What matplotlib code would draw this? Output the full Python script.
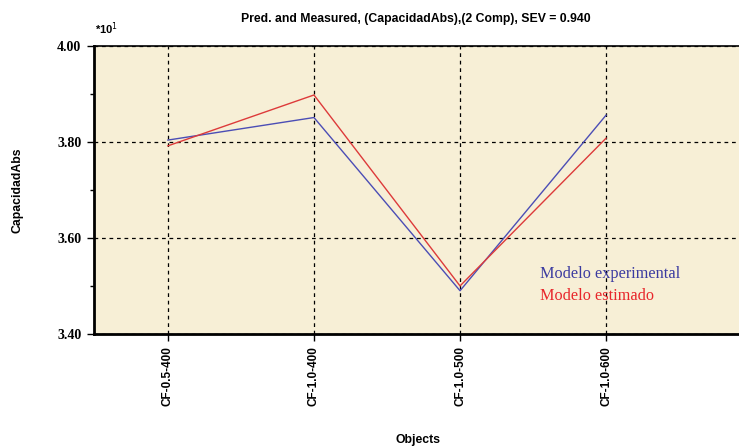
import matplotlib
matplotlib.use("Agg")
import matplotlib.pyplot as plt
from matplotlib.ticker import MultipleLocator

objects = ["CF-0.5-400", "CF-1.0-400", "CF-1.0-500", "CF-1.0-600"]
measured = [3.804, 3.851, 3.490, 3.856]
predicted = [3.792, 3.898, 3.500, 3.808]
y_ticks = [3.40, 3.60, 3.80, 4.00]

fig = plt.figure(figsize=(7.39, 4.47), dpi=100)
ax = fig.add_axes([0.127, 0.253, 0.873, 0.644])
ax.set_facecolor("#f7efd6")

x = list(range(len(objects)))
ax.plot(x, measured, color="#4b4db5", lw=1.0, zorder=3)
ax.plot(x, predicted, color="#dd3a3a", lw=1.0, zorder=3)

ax.set_xlim(-0.507, 3.91)
ax.set_ylim(3.40, 4.00)
ax.set_xticks(x)
ax.set_xticklabels(objects, rotation=90, fontsize=8.5, fontweight="bold",
                   family="Liberation Sans")
ax.set_yticks(y_ticks)
ax.set_yticklabels([f"{v:.2f}" for v in y_ticks], fontsize=10,
                   fontweight="bold", family="Liberation Serif")
ax.yaxis.set_minor_locator(MultipleLocator(0.1))
ax.tick_params(direction="out", length=5, width=1, pad=4)
ax.tick_params(which="minor", direction="out", length=3, width=1)

ax.grid(True, color="black", ls=(0, (3, 3)), lw=0.9)

for side in ["left", "bottom"]:
    ax.spines[side].set_linewidth(2)
ax.spines["top"].set_linewidth(1.2)
ax.spines["right"].set_visible(False)

ax.set_ylabel("CapacidadAbs", fontsize=8.8, fontweight="bold",
              family="Liberation Sans", labelpad=24)

fig.text(0.565, 0.016, "Objects", ha="center", va="center", fontsize=8.8,
         fontweight="bold", family="Liberation Sans")
fig.text(0.562, 0.958, "Pred. and Measured, (CapacidadAbs),(2 Comp), SEV = 0.940",
         ha="center", va="center", fontsize=8.8, fontweight="bold",
         family="Liberation Sans")
fig.text(0.128, 0.935, "*10$^{1}$", ha="left", va="center", fontsize=8,
         fontweight="bold", family="Liberation Sans")

fig.text(0.731, 0.387, "Modelo experimental", color="#3b3ba0", fontsize=11.7,
         family="Liberation Serif", va="center")
fig.text(0.731, 0.337, "Modelo estimado", color="#e8262b", fontsize=11.7,
         family="Liberation Serif", va="center")

fig.savefig("out.png", dpi=100)
